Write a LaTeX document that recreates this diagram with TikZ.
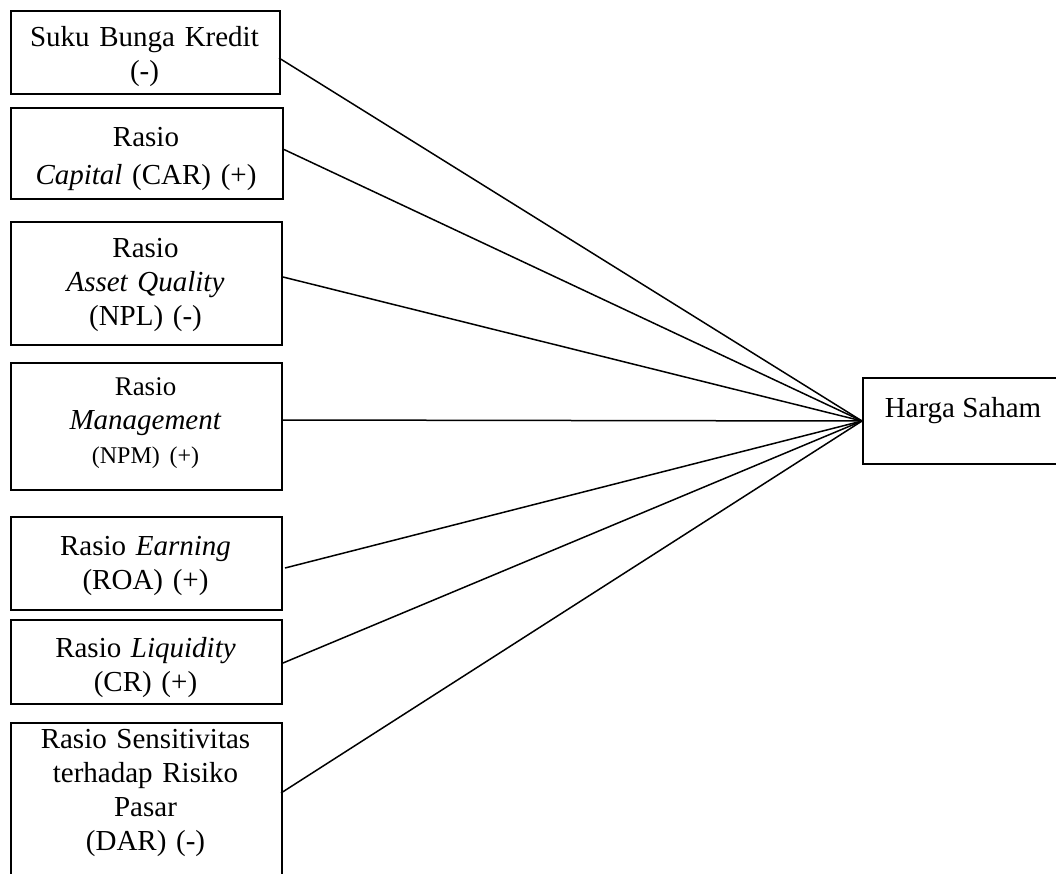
\documentclass[tikz,border=0pt]{standalone}
\usepackage{fontspec}
\setmainfont{Liberation Serif}
\begin{document}
\begin{tikzpicture}[x=1pt,y=-1pt,
  box/.style={draw, line width=2pt, inner sep=0pt, anchor=north west},
  txt/.style={inner sep=0pt, align=center, anchor=base, font=\fontsize{29}{34}\selectfont},
  link/.style={line width=1.5pt}]
\useasboundingbox (0,0) rectangle (1056,874);
\clip (0,0) rectangle (1056,874);
% boxes
\node[box, minimum width=269pt, minimum height=83pt] (b1) at (10,10) {};
\node[box, minimum width=272pt, minimum height=91pt] (b2) at (10,107) {};
\node[box, minimum width=271pt, minimum height=123pt] (b3) at (10,221) {};
\node[box, minimum width=271pt, minimum height=127pt] (b4) at (10,362) {};
\node[box, minimum width=271pt, minimum height=93pt] (b5) at (10,516) {};
\node[box, minimum width=271pt, minimum height=84pt] (b6) at (10,619) {};
\node[box, minimum width=271pt, minimum height=180pt] (b7) at (10,722) {};
\node[box, minimum width=230pt, minimum height=86pt] (h) at (862,377) {};
% texts
\node[txt, text width=269pt] (t1) at (144.5,47) {Suku Bunga Kredit\\(-)};
\node[txt, text width=272pt] (t2) at (146,147) {Rasio\\[4pt]\textit{Capital} (CAR) (+)};
\node[txt, text width=271pt] (t3) at (145.5,258) {Rasio\\\textit{Asset Quality}\\(NPL) (-)};
\node[txt, text width=271pt] (t4) at (145.5,395) {{\fontsize{27}{32}\selectfont Rasio}\\\textit{Management}\\{\fontsize{24}{28}\selectfont (NPM) (+)}};
\node[txt, text width=271pt] (t5) at (145.5,555) {Rasio \textit{Earning}\\(ROA) (+)};
\node[txt, text width=271pt] (t6) at (145.5,657) {Rasio \textit{Liquidity}\\(CR) (+)};
\node[txt, text width=271pt] (t7) at (145.5,748) {Rasio Sensitivitas\\terhadap Risiko\\Pasar\\(DAR) (-)};
\node[txt] (t8) at (963,417) {Harga Saham};
% connectors
\draw[link] ([yshift=-5.5pt,xshift=-2pt]b1.east) -- (h.west);
\draw[link] ([yshift=4pt]b2.east) -- (h.west);
\draw[link] ([yshift=6.5pt]b3.east) -- (h.west);
\draw[link] ([yshift=6.5pt]b4.east) -- (h.west);
\draw[link] ([yshift=-4.5pt,xshift=2pt]b5.east) -- (h.west);
\draw[link] ([yshift=-1pt]b6.east) -- (h.west);
\draw[link] (b7.west |- 0,793) ++(271,0) coordinate (b7e) (b7e) -- (h.west);
\end{tikzpicture}
\end{document}
